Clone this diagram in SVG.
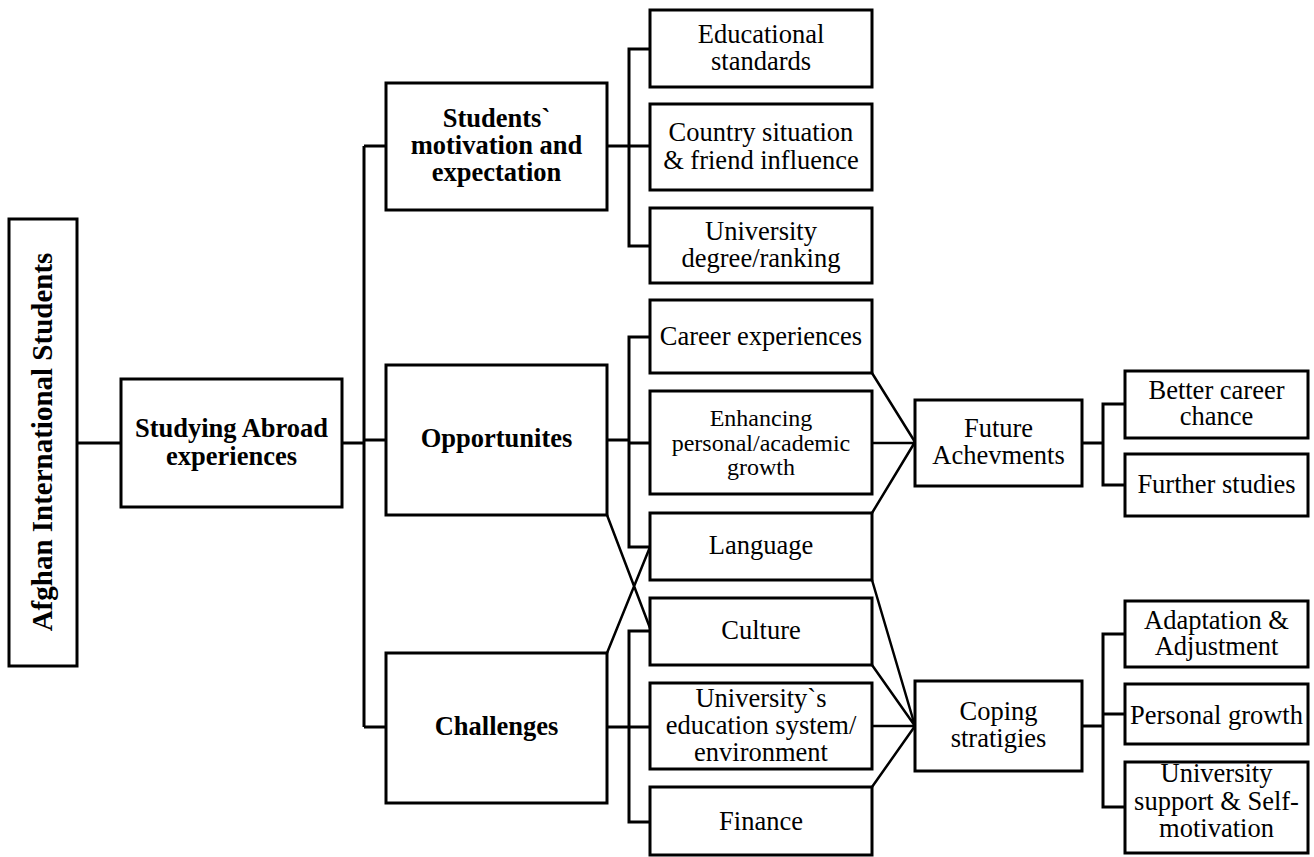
<svg xmlns="http://www.w3.org/2000/svg" width="1314" height="857" viewBox="0 0 1314 857">
<style>
.b{fill:#fff;stroke:#000;stroke-width:3}
.c{fill:none;stroke:#000;stroke-width:3}
.d{fill:none;stroke:#000;stroke-width:2.5}
text{font-family:"Liberation Serif","Times New Roman",serif;font-size:26.5px;fill:#000;text-anchor:middle}
.bold{font-weight:bold}
.sm{font-size:24px}
</style>
<rect width="1314" height="857" fill="#fff"/>
<g id="connectors">
<path class="c" d="M77,443H121M342,443H364M364,146V727M364,146H386M364,440H386M364,727H386"/>
<path class="c" d="M607,146H650M650,49H629V246H650"/>
<path class="c" d="M607,440H629M650,337H629V547H650M629,443H650"/>
<path class="c" d="M607,727H650M650,631H629V822H650"/>
<path class="d" d="M607,515L650,628M607,653L650,547"/>
<path class="d" d="M872,373L915,442M872,443H915M872,513L915,442"/>
<path class="c" d="M1082,443H1103M1125,404H1103V485H1125"/>
<path class="d" d="M872,580L915,726M872,665L915,726M872,726H915M872,787L915,726"/>
<path class="c" d="M1082,726H1103M1125,634H1103V807H1125M1103,714H1125"/>
</g>
<g id="root"><rect class="b" x="9" y="219" width="68" height="447"/><text class="bold" style="font-size:29px" transform="translate(52,442) rotate(-90)">Afghan International Students</text></g>
<g id="studying"><rect class="b" x="121" y="379" width="221" height="128"/><text class="bold" x="231.5" y="437">Studying Abroad</text><text class="bold" x="231.5" y="464.5">experiences</text></g>
<g id="students"><rect class="b" x="386" y="83" width="221" height="127"/><text class="bold" x="496.5" y="127">Students`</text><text class="bold" x="496.5" y="154">motivation and</text><text class="bold" x="496.5" y="181">expectation</text></g>
<g id="opportunities"><rect class="b" x="386" y="365" width="221" height="150"/><text class="bold" x="496.5" y="447">Opportunites</text></g>
<g id="challenges"><rect class="b" x="386" y="653" width="221" height="150"/><text class="bold" x="496.5" y="735">Challenges</text></g>
<g id="educational"><rect class="b" x="650" y="10" width="222" height="77"/><text x="761" y="43">Educational</text><text x="761" y="69.5">standards</text></g>
<g id="country"><rect class="b" x="650" y="104" width="222" height="86"/><text x="761" y="141">Country situation</text><text x="761" y="169">&amp; friend influence</text></g>
<g id="univdegree"><rect class="b" x="650" y="208" width="222" height="75"/><text x="761" y="239.5">University</text><text x="761" y="266.5">degree/ranking</text></g>
<g id="career"><rect class="b" x="650" y="300" width="222" height="73"/><text x="761" y="345">Career experiences</text></g>
<g id="enhancing"><rect class="b" x="650" y="391" width="222" height="103"/><text class="sm" x="761" y="425.5">Enhancing</text><text class="sm" x="761" y="450.5">personal/academic</text><text class="sm" x="761" y="475">growth</text></g>
<g id="language"><rect class="b" x="650" y="513" width="222" height="67"/><text x="761" y="553.5">Language</text></g>
<g id="culture"><rect class="b" x="650" y="598" width="222" height="67"/><text x="761" y="639">Culture</text></g>
<g id="univsystem"><rect class="b" x="650" y="683" width="222" height="86"/><text x="761" y="706.5">University`s</text><text x="761" y="733.5">education system/</text><text x="761" y="761">environment</text></g>
<g id="finance"><rect class="b" x="650" y="787" width="222" height="68"/><text x="761" y="830">Finance</text></g>
<g id="future"><rect class="b" x="915" y="400" width="167" height="86"/><text x="998.5" y="437">Future</text><text x="998.5" y="464">Achevments</text></g>
<g id="better"><rect class="b" x="1125" y="371" width="183" height="67"/><text x="1216.5" y="398.5">Better career</text><text x="1216.5" y="425">chance</text></g>
<g id="further"><rect class="b" x="1125" y="454" width="183" height="62"/><text x="1216.5" y="492.5">Further studies</text></g>
<g id="coping"><rect class="b" x="915" y="681" width="167" height="90"/><text x="998.5" y="720">Coping</text><text x="998.5" y="747">stratigies</text></g>
<g id="adaptation"><rect class="b" x="1125" y="601" width="183" height="66"/><text x="1216.5" y="628.5">Adaptation &amp;</text><text x="1216.5" y="655">Adjustment</text></g>
<g id="personal"><rect class="b" x="1125" y="684" width="183" height="60"/><text x="1216.5" y="723.5">Personal growth</text></g>
<g id="support"><rect class="b" x="1125" y="762" width="183" height="91"/><text x="1216.5" y="782">University</text><text x="1216.5" y="809.5">support &amp; Self-</text><text x="1216.5" y="837">motivation</text></g>
</svg>
